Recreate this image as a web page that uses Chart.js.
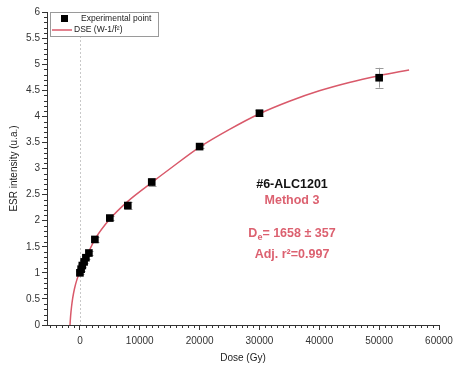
<!DOCTYPE html>
<html>
<head>
<meta charset="utf-8">
<script src="https://cdn.jsdelivr.net/npm/chart.js@4.4.1/dist/chart.umd.min.js"></script>
<style>
  html, body { margin: 0; padding: 0; background: #fff; }
  #wrap { width: 469px; height: 383px; }
</style>
</head>
<body>
<div id="wrap"><canvas id="doseChart" width="469" height="383"></canvas></div>
<script>
// measured points (dose in Gy, ESR intensity in u.a.) and their errors
const doseGy   = [0, 200, 400, 700, 1000, 1500, 2500, 5000, 8000, 12000, 20000, 30000, 50000];
const esrVal   = [1.00, 1.07, 1.14, 1.21, 1.29, 1.38, 1.64, 2.05, 2.29, 2.74, 3.42, 4.06, 4.74];
const esrErr   = [0.03, 0.03, 0.03, 0.03, 0.03, 0.04, 0.04, 0.04, 0.07, 0.07, 0.03, 0.06, 0.19];

// DSE fitted curve
const fitDose = [-1658, -1550, -1400, -1200, -900, -500, 0, 500, 1000, 2500, 5000, 8000, 12000, 15000, 20000, 25000, 30000, 35000, 40000, 45000, 50000, 55000];
const fitEsr  = [0, 0.18, 0.35, 0.52, 0.70, 0.87, 1.02, 1.15, 1.28, 1.64, 2.03, 2.37, 2.73, 2.99, 3.41, 3.75, 4.05, 4.29, 4.49, 4.65, 4.78, 4.89];

// tick values
const xTicks = [0, 10000, 20000, 30000, 40000, 50000, 60000];
const yTicks = [0, 0.5, 1, 1.5, 2, 2.5, 3, 3.5, 4, 4.5, 5, 5.5, 6];

const FONT = '"Liberation Sans", Arial, sans-serif';
const RED = '#d9596a';
const PINK = '#dc6170';

// draws minor ticks, the dashed zero line and error bars
const extrasPlugin = {
    id: 'extras',
    beforeDatasetsDraw(chart) {
        const ctx = chart.ctx;
        const x = chart.scales.x, y = chart.scales.y;
        const area = chart.chartArea;
        ctx.save();

        // dashed line at zero dose
        ctx.strokeStyle = '#c8c8c8';
        ctx.lineWidth = 1;
        ctx.setLineDash([2, 2]);
        const x0 = Math.round(x.getPixelForValue(0)) + 0.5;
        ctx.beginPath();
        ctx.moveTo(x0, area.top);
        ctx.lineTo(x0, area.bottom);
        ctx.stroke();
        ctx.setLineDash([]);

        // minor ticks
        ctx.strokeStyle = '#333';
        ctx.beginPath();
        for (let v = -5000; v <= 60000; v += 1000) {
            if (v % 10000 === 0) continue;
            const px = Math.round(x.getPixelForValue(v)) + 0.5;
            ctx.moveTo(px, area.bottom);
            ctx.lineTo(px, area.bottom + 3);
        }
        for (let i = 0; i <= 60; i++) {
            if (i % 5 === 0) continue;
            const py = Math.round(y.getPixelForValue(i / 10)) + 0.5;
            ctx.moveTo(area.left, py);
            ctx.lineTo(area.left - 3, py);
        }
        ctx.stroke();

        // error bars
        ctx.strokeStyle = '#9a9a9a';
        ctx.beginPath();
        doseGy.forEach((d, i) => {
            const px = Math.round(x.getPixelForValue(d)) + 0.5;
            const top = y.getPixelForValue(esrVal[i] + esrErr[i]);
            const bot = y.getPixelForValue(esrVal[i] - esrErr[i]);
            ctx.moveTo(px, top);
            ctx.lineTo(px, bot);
            ctx.moveTo(px - 4, Math.round(top) + 0.5);
            ctx.lineTo(px + 4, Math.round(top) + 0.5);
            ctx.moveTo(px - 4, Math.round(bot) + 0.5);
            ctx.lineTo(px + 4, Math.round(bot) + 0.5);
        });
        ctx.stroke();
        ctx.restore();
    },
    afterDraw(chart) {
        const ctx = chart.ctx;
        const area = chart.chartArea;
        ctx.save();

        // legend box
        const lx = area.left + 3, ly = area.top, lw = 108, lh = 24;
        ctx.fillStyle = '#fff';
        ctx.fillRect(lx, ly, lw, lh);
        ctx.strokeStyle = '#9a9a9a';
        ctx.lineWidth = 1;
        ctx.strokeRect(lx + 0.5, ly + 0.5, lw, lh);
        const sets = chart.data.datasets;
        ctx.fillStyle = '#000';
        ctx.fillRect(lx + 11, ly + 3, 7, 7);
        ctx.strokeStyle = sets[1].borderColor;
        ctx.lineWidth = 1.5;
        ctx.beginPath();
        ctx.moveTo(lx + 2, ly + 18);
        ctx.lineTo(lx + 22, ly + 18);
        ctx.stroke();
        ctx.fillStyle = '#222';
        ctx.font = '8.5px ' + FONT;
        ctx.textBaseline = 'middle';
        ctx.textAlign = 'left';
        ctx.fillText(sets[0].label, lx + 31, ly + 7);
        ctx.fillText(sets[1].label, lx + 24, ly + 18);

        // sample annotation
        const cx = area.left + 245;
        ctx.textAlign = 'center';
        ctx.textBaseline = 'alphabetic';
        ctx.font = 'bold 12.5px ' + FONT;
        ctx.fillStyle = '#111';
        ctx.fillText('#6-ALC1201', cx, 188);
        ctx.fillStyle = PINK;
        ctx.fillText('Method 3', cx, 204);

        // D_e line with subscript
        const rest = '= 1658 \u00b1 357';
        const wD = ctx.measureText('D').width;
        ctx.font = 'bold 9px ' + FONT;
        const wE = ctx.measureText('e').width;
        ctx.font = 'bold 12.5px ' + FONT;
        const wR = ctx.measureText(rest).width;
        let sx = cx - (wD + wE + wR) / 2;
        ctx.textAlign = 'left';
        ctx.fillText('D', sx, 237);
        ctx.font = 'bold 9px ' + FONT;
        ctx.fillText('e', sx + wD, 240);
        ctx.font = 'bold 12.5px ' + FONT;
        ctx.fillText(rest, sx + wD + wE, 237);

        ctx.textAlign = 'center';
        ctx.fillText('Adj. r\u00b2=0.997', cx, 258);
        ctx.restore();
    }
};

new Chart(document.getElementById('doseChart'), {
    type: 'scatter',
    data: {
        datasets: [
            {
                label: 'Experimental point',
                data: doseGy.map((d, i) => ({ x: d, y: esrVal[i] })),
                pointStyle: 'rect',
                pointRadius: 5.4,
                backgroundColor: '#000',
                borderColor: '#000',
                borderWidth: 0,
                order: 0
            },
            {
                label: 'DSE (W-1/f\u00b2)',
                type: 'line',
                data: fitDose.map((d, i) => ({ x: d, y: fitEsr[i] })),
                borderColor: RED,
                borderWidth: 1.5,
                pointRadius: 0,
                cubicInterpolationMode: 'monotone',
                fill: false,
                order: 1
            }
        ]
    },
    options: {
        responsive: false,
        animation: false,
        layout: { padding: { top: 12, right: 30, left: 8, bottom: 19 } },
        plugins: {
            legend: { display: false },
            tooltip: { enabled: false }
        },
        scales: {
            x: {
                type: 'linear',
                min: -5500,
                max: 60000,
                afterBuildTicks: (scale) => { scale.ticks = xTicks.map(v => ({ value: v })); },
                afterFit: (scale) => { scale.height = 39; },
                border: { color: '#333', width: 1 },
                grid: { drawOnChartArea: false, tickLength: 5, color: '#333' },
                ticks: {
                    color: '#333',
                    font: { family: FONT, size: 10 },
                    padding: 5,
                    maxRotation: 0,
                    callback: (v) => String(v)
                },
                title: {
                    display: true,
                    text: 'Dose (Gy)',
                    color: '#222',
                    font: { family: FONT, size: 10 },
                    padding: { top: 4, bottom: 0 }
                }
            },
            y: {
                type: 'linear',
                min: 0,
                max: 6,
                afterBuildTicks: (scale) => { scale.ticks = yTicks.map(v => ({ value: v })); },
                afterFit: (scale) => { scale.width = 39; },
                border: { color: '#333', width: 1 },
                grid: { drawOnChartArea: false, tickLength: 5, color: '#333' },
                ticks: {
                    color: '#333',
                    font: { family: FONT, size: 10 },
                    padding: 2,
                    callback: (v) => String(v)
                },
                title: {
                    display: true,
                    text: 'ESR intensity (u.a.)',
                    color: '#222',
                    font: { family: FONT, size: 10 },
                    padding: { top: 0, bottom: 2 }
                }
            }
        }
    },
    plugins: [extrasPlugin]
});
</script>
</body>
</html>
